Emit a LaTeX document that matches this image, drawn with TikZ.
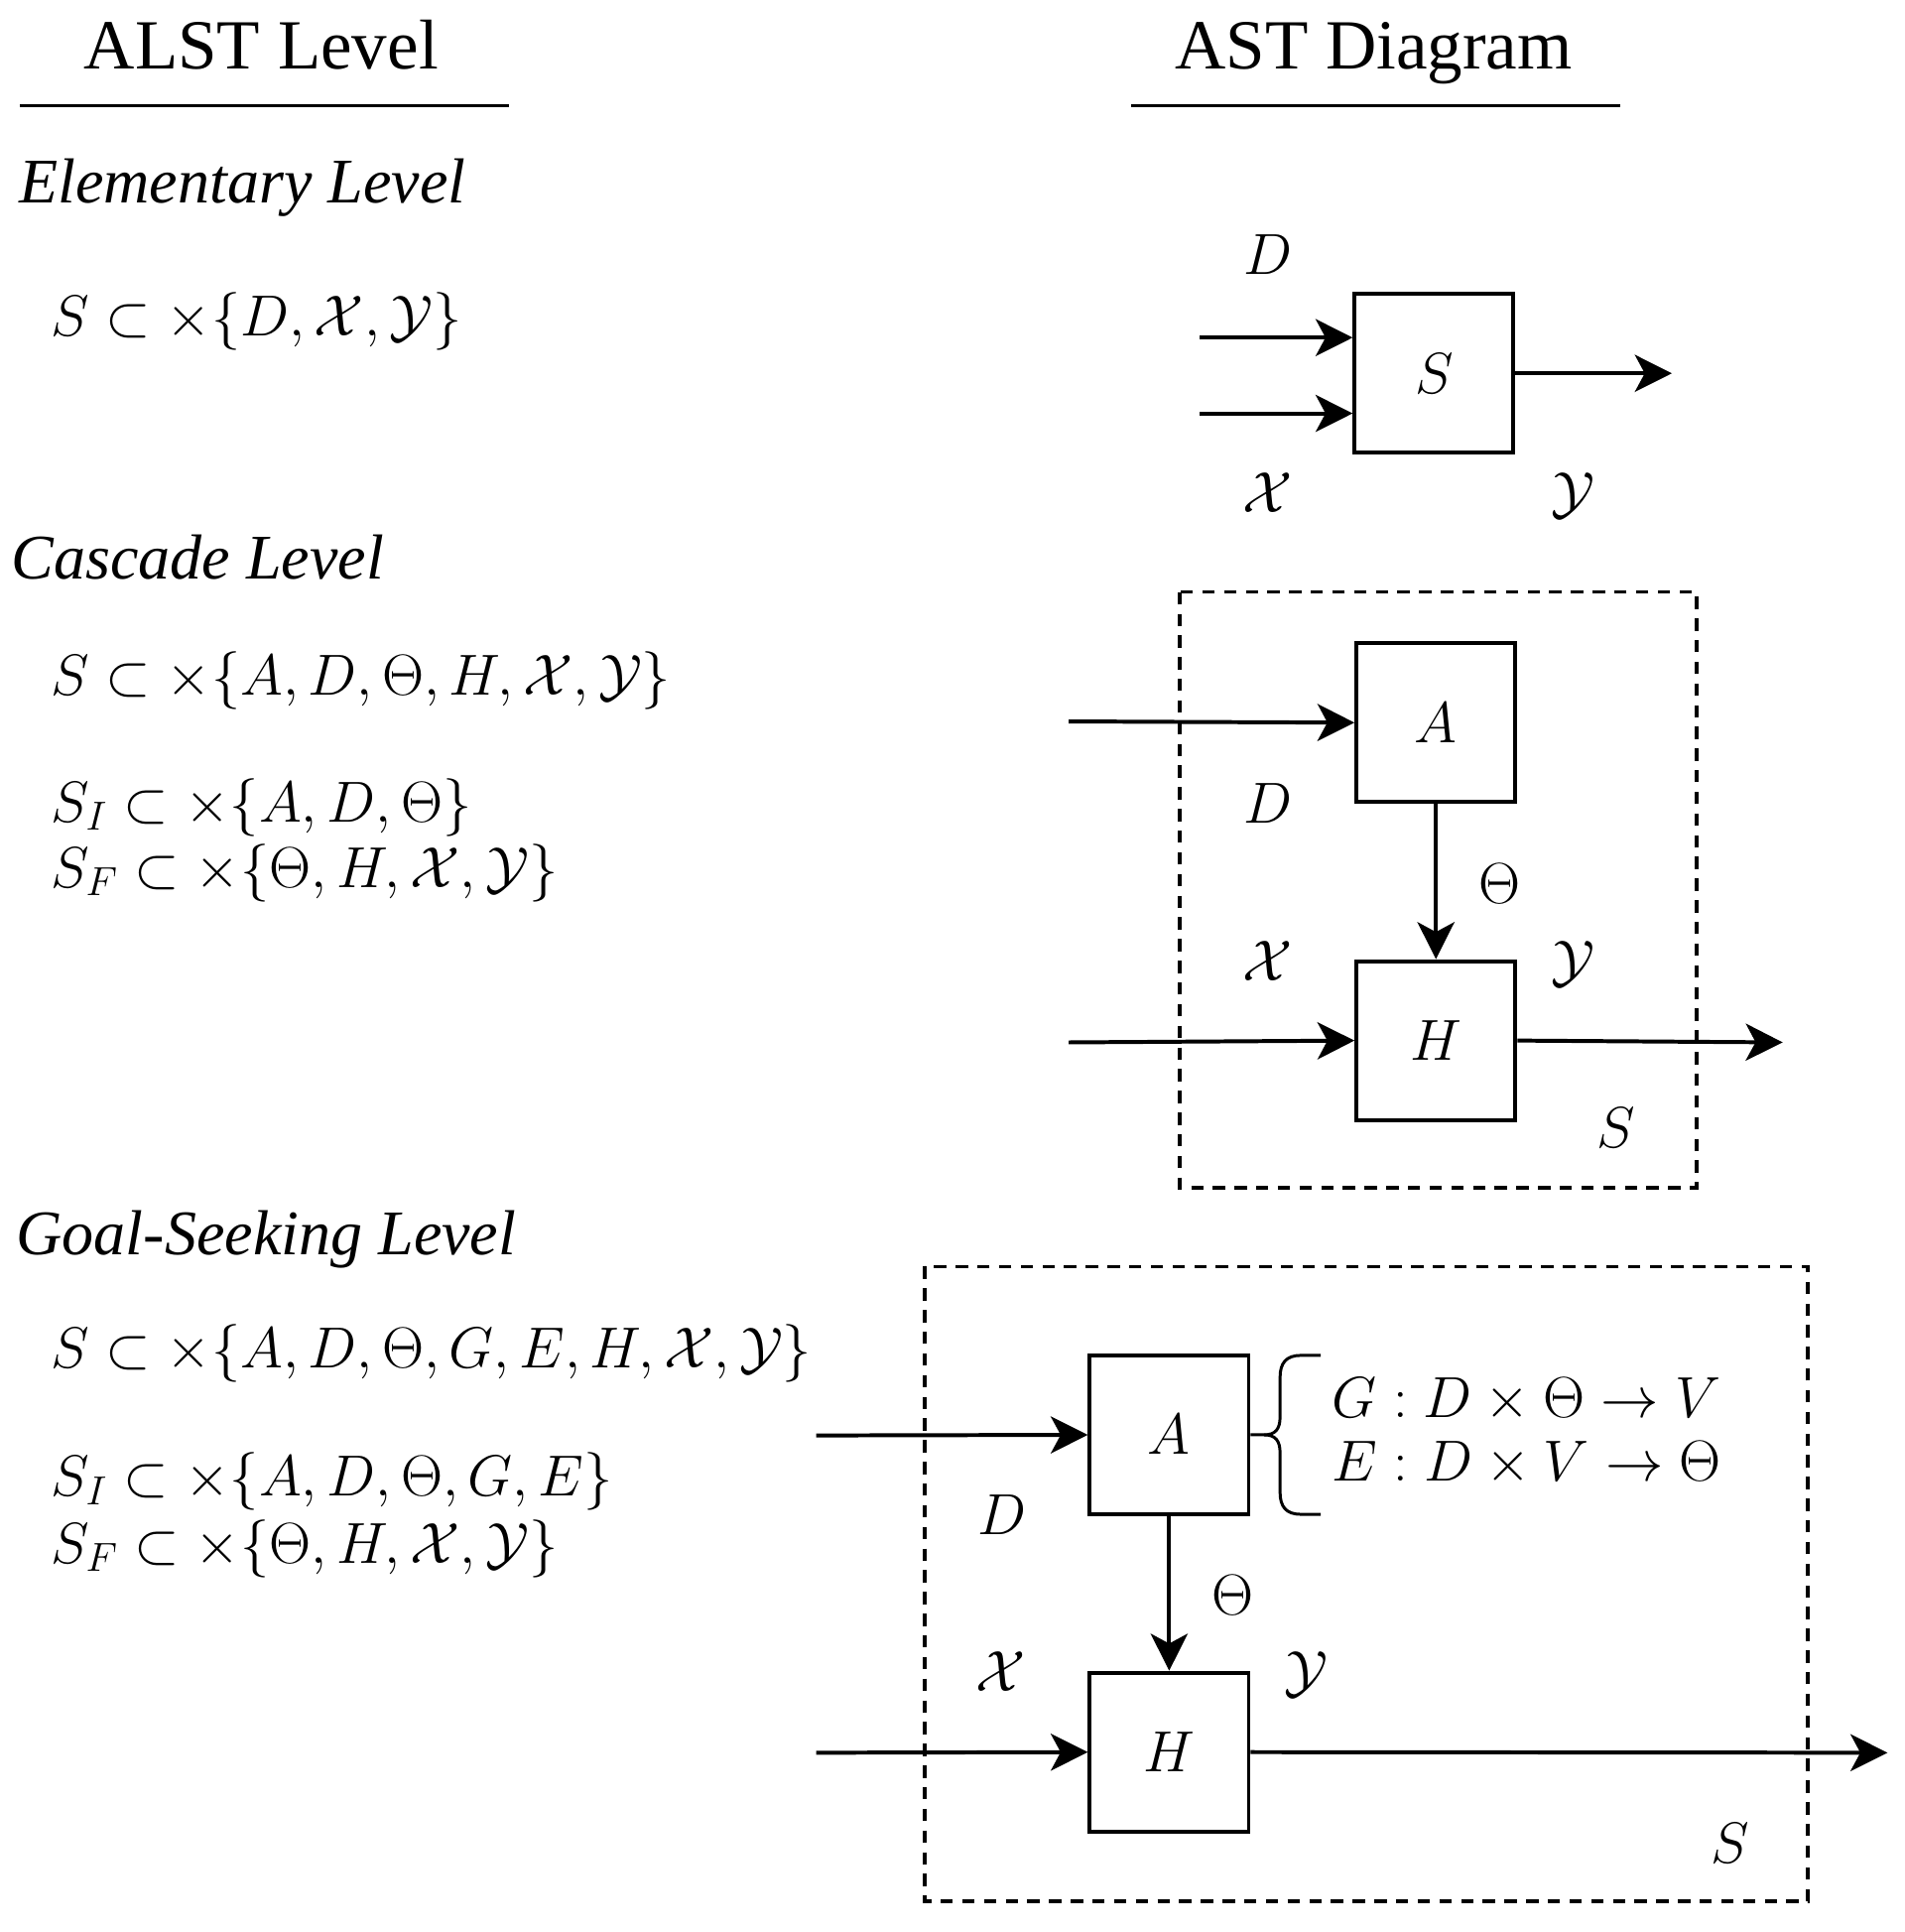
\RequirePackage{fix-cm}
\documentclass[tikz,border=0pt]{standalone}
\usepackage[no-math]{fontspec}
\setmainfont{Liberation Serif}
\usetikzlibrary{arrows.meta}

\begin{document}
\begin{tikzpicture}[x=0.5pt, y=-0.5pt,
    blk/.style={draw, line width=1.6pt, minimum size=64.5pt, inner sep=0pt, font=\fontsize{23.5}{28}\selectfont},
    arr/.style={line width=1.6pt, -{Stealth[length=15pt, width=15pt, inset=4pt]}},
    lbl/.style={inner sep=0pt, font=\fontsize{23.5}{28}\selectfont},
    eq/.style={anchor=base west, inner sep=0pt, font=\fontsize{23.5}{28}\selectfont},
    ttl/.style={anchor=base west, inner sep=0pt, font=\fontsize{25.8}{30}\selectfont\itshape},
    hdr/.style={anchor=base, inner sep=0pt, font=\fontsize{28.6}{34}\selectfont},
    bnd/.style={line width=1.4pt, dash pattern=on 5pt off 3.8pt}]
    \useasboundingbox (0,0) rectangle (1546,1568);

    % column heads
    \node[hdr] (alst) at (212,56) {ALST Level};
    \node[hdr] (ast) at (1115,56) {AST Diagram};
    \draw[line width=1.3pt] (16,85.5) -- (413,85.5);
    \draw[line width=1.3pt] (918,85.5) -- (1315,85.5);

    % ALST column
    \node[ttl] (elem) at (15,165) {Elementary Level};
    \node[eq] (elemS) at (41,273) {$S \subset \times\{D, \mathcal{X}, \mathcal{Y}\}$};
    \node[ttl] (casc) at (9,470) {Cascade Level};
    \node[eq] (cascS) at (41,564) {$S \subset \times\{A, D, \Theta, H, \mathcal{X}, \mathcal{Y}\}$};
    \node[eq] (cascI) at (41,667) {$S_I \subset \times\{A, D, \Theta\}$};
    \node[eq] (cascF) at (41,720) {$S_F \subset \times\{\Theta, H, \mathcal{X}, \mathcal{Y}\}$};
    \node[ttl] (goal) at (13,1018) {Goal-Seeking Level};
    \node[eq] (goalS) at (41,1110) {$S \subset \times\{A, D, \Theta, G, E, H, \mathcal{X}, \mathcal{Y}\}$};
    \node[eq] (goalI) at (41,1214) {$S_I \subset \times\{A, D, \Theta, G, E\}$};
    \node[eq] (goalF) at (41,1268.5) {$S_F \subset \times\{\Theta, H, \mathcal{X}, \mathcal{Y}\}$};

    % elementary diagram
    \node[blk] (S) at (1164,303) {$S$};
    \coordinate (dS) at (974,274);
    \coordinate (xS) at (974,335.5);
    \coordinate (yS) at (1357,303);
    \draw[arr] (dS) -- (S.west |- dS);
    \draw[arr] (xS) -- (S.west |- xS);
    \draw[arr] (S.east) -- (yS);
    \node[lbl] (dSl) at (1029,207) {$D$};
    \node[lbl] (xSl) at (1029,400) {$\mathcal{X}$};
    \node[lbl] (ySl) at (1277,402) {$\mathcal{Y}$};

    % cascade diagram
    \draw[bnd] (957.5,480.5) rectangle (1377,964);
    \node[blk] (cA) at (1165.5,586.5) {$A$};
    \node[blk] (cH) at (1165.5,844.5) {$H$};
    \coordinate (cD) at (867.5,585.5);
    \coordinate (cX) at (867.5,846);
    \coordinate (cY) at (1447,846);
    \draw[arr] (cD) -- (cA.west);
    \draw[arr] (cA.south) -- (cH.north);
    \draw[arr] (cX) -- (cH.west);
    \draw[arr] (cH.east) -- (cY);
    \node[lbl] (cDl) at (1029,652) {$D$};
    \node[lbl] (cTl) at (1217,717) {$\Theta$};
    \node[lbl] (cXl) at (1029,780) {$\mathcal{X}$};
    \node[lbl] (cYl) at (1277,782) {$\mathcal{Y}$};
    \node[lbl] (cSl) at (1312,915) {$S$};

    % goal-seeking diagram
    \draw[bnd] (750.5,1028) rectangle (1467.5,1543);
    \node[blk] (gA) at (949,1164.5) {$A$};
    \node[blk] (gH) at (949,1422) {$H$};
    \coordinate (gD) at (662.5,1165);
    \coordinate (gX) at (662.5,1422.5);
    \coordinate (gY) at (1532,1422.5);
    \draw[arr] (gD) -- (gA.west);
    \draw[arr] (gA.south) -- (gH.north);
    \draw[arr] (gX) -- (gH.west);
    \draw[arr] (gH.east) -- (gY);
    \node[lbl] (gDl) at (813,1229) {$D$};
    \node[lbl] (gTl) at (1001,1295) {$\Theta$};
    \node[lbl] (gXl) at (812,1357) {$\mathcal{X}$};
    \node[lbl] (gYl) at (1060.5,1359) {$\mathcal{Y}$};
    \node[lbl] (gSl) at (1404,1496) {$S$};

    % brace on A
    \coordinate (tip) at (1026,1164.5);
    \draw[line width=1.2pt] (gA.east) -- (tip)
        .. controls (1035,1164.5) and (1039,1160) .. (1039,1150) -- (1039,1118)
        .. controls (1039,1106) and (1044,1100) .. (1056,1100) -- (1072,1100);
    \draw[line width=1.2pt] (tip)
        .. controls (1035,1164.5) and (1039,1169) .. (1039,1179) -- (1039,1211)
        .. controls (1039,1223) and (1044,1229) .. (1056,1229) -- (1072,1229);
    \node[eq] (Gmap) at (1081,1150.5) {$G : D \times \Theta \to V$};
    \node[eq] (Emap) at (1081,1202) {$E : D \times V \to \Theta$};
\end{tikzpicture}
\end{document}
